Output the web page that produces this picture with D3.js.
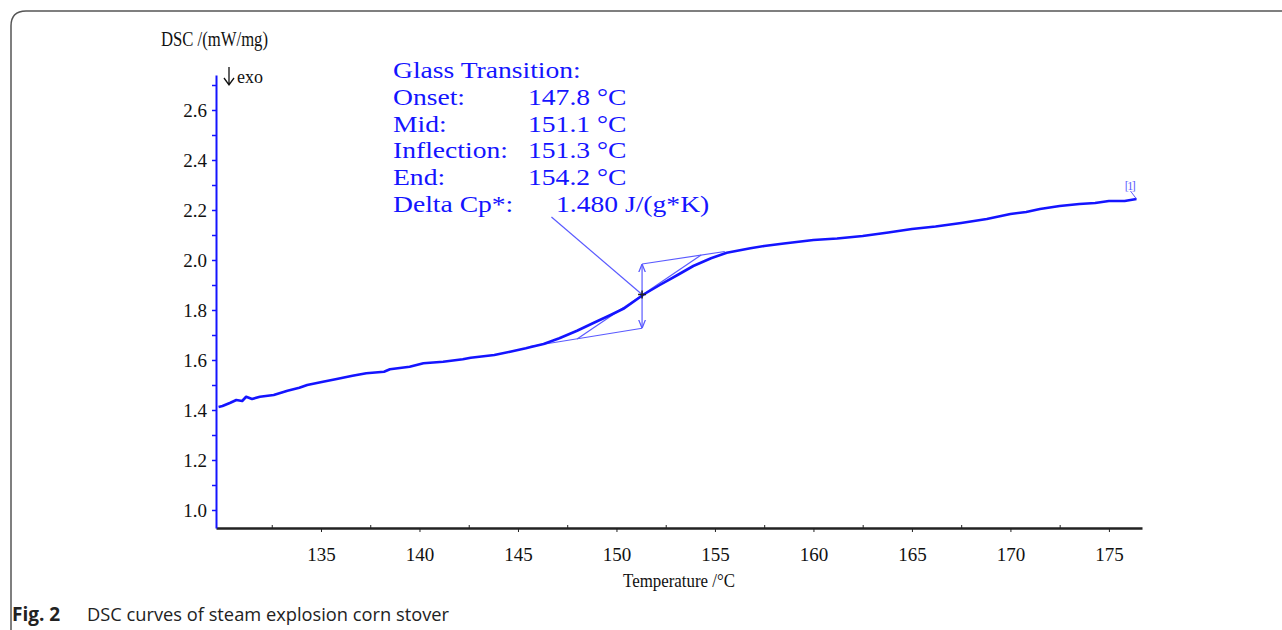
<!DOCTYPE html>
<html>
<head>
<meta charset="utf-8">
<script src="https://cdn.jsdelivr.net/npm/d3@7"></script>
<style>
  body { margin: 0; background: #fff; }
  svg { display: block; }
</style>
</head>
<body>
<div id="chart"></div>
<script>
// DSC curve (temperature in degC, DSC in mW/mg)
var temp = [129.8, 130.0, 130.4, 130.7, 131.0, 131.2, 131.5, 131.9, 132.6, 133.3, 133.9, 134.3,
  135.1, 135.8, 136.6, 137.3, 138.2, 138.5, 139.5, 140.2, 141.2, 142.2, 142.6, 143.8, 144.6,
  145.4, 145.6, 146.3, 147.1, 148.0, 148.8, 149.7, 150.4, 151.4, 152.2, 153.1, 153.9, 154.8,
  155.6, 156.8, 157.5, 158.5, 160.0, 161.2, 162.5, 163.8, 165.0, 166.2, 167.5, 168.8, 170.0,
  170.8, 171.5, 172.5, 173.5, 174.3, 175.0, 175.8, 176.4];
var dsc = [1.412, 1.416, 1.429, 1.440, 1.436, 1.453, 1.444, 1.453, 1.460, 1.477, 1.489, 1.500,
  1.513, 1.524, 1.537, 1.547, 1.553, 1.563, 1.573, 1.587, 1.593, 1.603, 1.609, 1.620, 1.633,
  1.647, 1.651, 1.664, 1.687, 1.717, 1.747, 1.780, 1.807, 1.863, 1.900, 1.940, 1.976, 2.007,
  2.029, 2.047, 2.056, 2.066, 2.080, 2.086, 2.096, 2.110, 2.124, 2.134, 2.148, 2.164, 2.184,
  2.192, 2.204, 2.216, 2.224, 2.228, 2.236, 2.236, 2.244];

// glass transition construction lines
var lowerBase = [[145.6, 1.654], [151.3, 1.727]];
var upperBase = [[151.3, 1.984], [155.5, 2.034]];
var tangent = [[148.0, 1.684], [154.3, 2.020]];
var deltaArrow = [[151.3, 1.727], [151.3, 1.984]];
var inflection = [151.3, 1.862];
var pointer = [[146.7, 2.172], inflection];

var xTicksMajor = [135, 140, 145, 150, 155, 160, 165, 170, 175];
var xTicksMinor = [132.5, 137.5, 142.5, 147.5, 152.5, 157.5, 162.5, 167.5, 172.5];
var yTicks = [1.0, 1.1, 1.2, 1.3, 1.4, 1.5, 1.6, 1.7, 1.8, 1.9, 2.0, 2.1, 2.2, 2.3, 2.4, 2.5, 2.6, 2.7];

var resultLabels = ["Onset:", "Mid:", "Inflection:", "End:", "Delta Cp*:"];
var resultValues = ["147.8 °C", "151.1 °C", "151.3 °C", "154.2 °C", "1.480 J/(g*K)"];

var svgWidth = 1282, svgHeight = 630;
var margin = { top: 75, left: 216 };
var width = 926, height = 453;
var blue = "#1414ff";
var thin = "#5a5aff";
var serif = "'Liberation Serif', 'Times New Roman', serif";

var svg = d3.select("#chart").append("svg")
  .attr("width", svgWidth)
  .attr("height", svgHeight);

// rounded frame (top and left edges)
svg.append("path")
  .attr("d", "M11,630 L11,26 Q11,11 26,11 L1282,11")
  .attr("fill", "none")
  .attr("stroke", "#555")
  .attr("stroke-width", 1.5);

var g = svg.append("g")
  .attr("transform", `translate(${margin.left}, ${margin.top})`);

var x = d3.scaleLinear().domain([129.67, 176.68]).range([0, width]);
var y = d3.scaleLinear().domain([0.928, 2.74]).range([height, 0]);

// x axis
var xAxis = g.append("g")
  .attr("transform", `translate(0, ${height})`)
  .call(d3.axisBottom(x).tickValues(xTicksMajor).tickSize(4).tickSizeOuter(0).tickFormat(d3.format("d")));
xAxis.select(".domain").attr("stroke", "#222").attr("stroke-width", 2.5);
xAxis.selectAll(".tick line").attr("stroke", "#222");
xAxis.selectAll("text")
  .attr("font-family", serif).attr("font-size", 19).attr("fill", "#111")
  .attr("y", 20).attr("dy", "0.71em");

g.append("g")
  .attr("transform", `translate(0, ${height})`)
  .call(d3.axisBottom(x).tickValues(xTicksMinor).tickSize(-3).tickFormat(""))
  .call(s => s.select(".domain").remove())
  .selectAll("line").attr("stroke", "#222");

// y axis
var yAxis = g.append("g")
  .call(d3.axisLeft(y).tickValues(yTicks).tickSize(4).tickSizeOuter(0)
    .tickFormat(d => Math.round(d * 10) % 2 === 0 && d < 2.7 ? d3.format(".1f")(d) : ""));
yAxis.select(".domain").attr("stroke", blue).attr("stroke-width", 2);
yAxis.selectAll(".tick line").attr("stroke", blue).attr("stroke-width", 1.5);
yAxis.selectAll("text")
  .attr("font-family", serif).attr("font-size", 19).attr("fill", "#111")
  .attr("x", -9);

// axis titles
svg.append("text")
  .attr("x", 161).attr("y", 46)
  .attr("font-family", serif).attr("font-size", 20).attr("fill", "#111")
  .attr("textLength", 107).attr("lengthAdjust", "spacingAndGlyphs")
  .text("DSC /(mW/mg)");
// the "down = exo" marker
svg.append("path")
  .attr("d", "M229,67 L229,84 M224,78 L229,85 L234,78")
  .attr("fill", "none").attr("stroke", "#111").attr("stroke-width", 1.3);
svg.append("text")
  .attr("x", 237).attr("y", 83)
  .attr("font-family", serif).attr("font-size", 18).attr("fill", "#111")
  .text("exo");
svg.append("text")
  .attr("x", 679).attr("y", 587)
  .attr("text-anchor", "middle")
  .attr("font-family", serif).attr("font-size", 19).attr("fill", "#111")
  .attr("textLength", 112).attr("lengthAdjust", "spacingAndGlyphs")
  .text("Temperature /°C");

// arrowhead marker for delta Cp arrow
svg.append("defs").append("marker")
  .attr("id", "arr")
  .attr("viewBox", "0 0 10 10")
  .attr("refX", 10).attr("refY", 5)
  .attr("markerWidth", 7).attr("markerHeight", 7)
  .attr("orient", "auto-start-reverse")
  .append("path")
  .attr("d", "M0,1 L10,5 L0,9")
  .attr("fill", "none").attr("stroke", thin).attr("stroke-width", 1.5);

var seg = d3.line().x(d => x(d[0])).y(d => y(d[1]));

[lowerBase, upperBase, tangent, pointer].forEach(function(p) {
  g.append("path").attr("d", seg(p))
    .attr("fill", "none").attr("stroke", thin).attr("stroke-width", 1.2);
});
g.append("path").attr("d", seg(deltaArrow))
  .attr("fill", "none").attr("stroke", thin).attr("stroke-width", 1.2)
  .attr("marker-start", "url(#arr)").attr("marker-end", "url(#arr)");

// the DSC curve
var pts = temp.map((t, i) => [t, dsc[i]]);
g.append("path")
  .attr("d", seg(pts))
  .attr("fill", "none")
  .attr("stroke", blue)
  .attr("stroke-width", 2.6)
  .attr("stroke-linejoin", "round");

// inflection cross
var ix = x(inflection[0]), iy = y(inflection[1]);
g.append("path")
  .attr("d", `M${ix - 4},${iy} L${ix + 4},${iy} M${ix},${iy - 4} L${ix},${iy + 4}`)
  .attr("stroke", "#222").attr("stroke-width", 1.5);

// curve end label
var end = pts[pts.length - 1];
g.append("line")
  .attr("x1", x(end[0])).attr("y1", y(end[1]))
  .attr("x2", x(end[0]) - 6).attr("y2", y(end[1]) - 8)
  .attr("stroke", thin).attr("stroke-width", 1);
g.append("text")
  .attr("x", x(end[0]) - 7).attr("y", y(end[1]) - 9)
  .attr("text-anchor", "middle")
  .attr("font-family", serif).attr("font-size", 12).attr("fill", thin)
  .attr("letter-spacing", -1.5)
  .text("[1]");

// results block, glyphs drawn wide like the instrument software
var res = svg.append("g")
  .attr("font-family", serif).attr("font-size", 23).attr("fill", blue);
function wideText(tx, ty, s) {
  res.append("text")
    .attr("transform", `translate(${tx}, ${ty}) scale(1.2, 1)`)
    .text(s);
}
wideText(393, 78, "Glass Transition:");
resultLabels.forEach(function(l, i) {
  var by = 78 + (i + 1) * 26.8;
  wideText(393, by, l);
  wideText(i === 4 ? 556 : 528, by, resultValues[i]);
});

// caption
var cap = svg.append("text")
  .attr("x", 12).attr("y", 621)
  .attr("font-family", "'Open Sans', 'Noto Sans', sans-serif").attr("font-size", 18).attr("fill", "#222");
cap.append("tspan").attr("font-weight", "bold").attr("font-size", 19).text("Fig. 2");
cap.append("tspan").attr("x", 87).attr("textLength", 362).attr("lengthAdjust", "spacingAndGlyphs")
  .text("DSC curves of steam explosion corn stover");
</script>
</body>
</html>
